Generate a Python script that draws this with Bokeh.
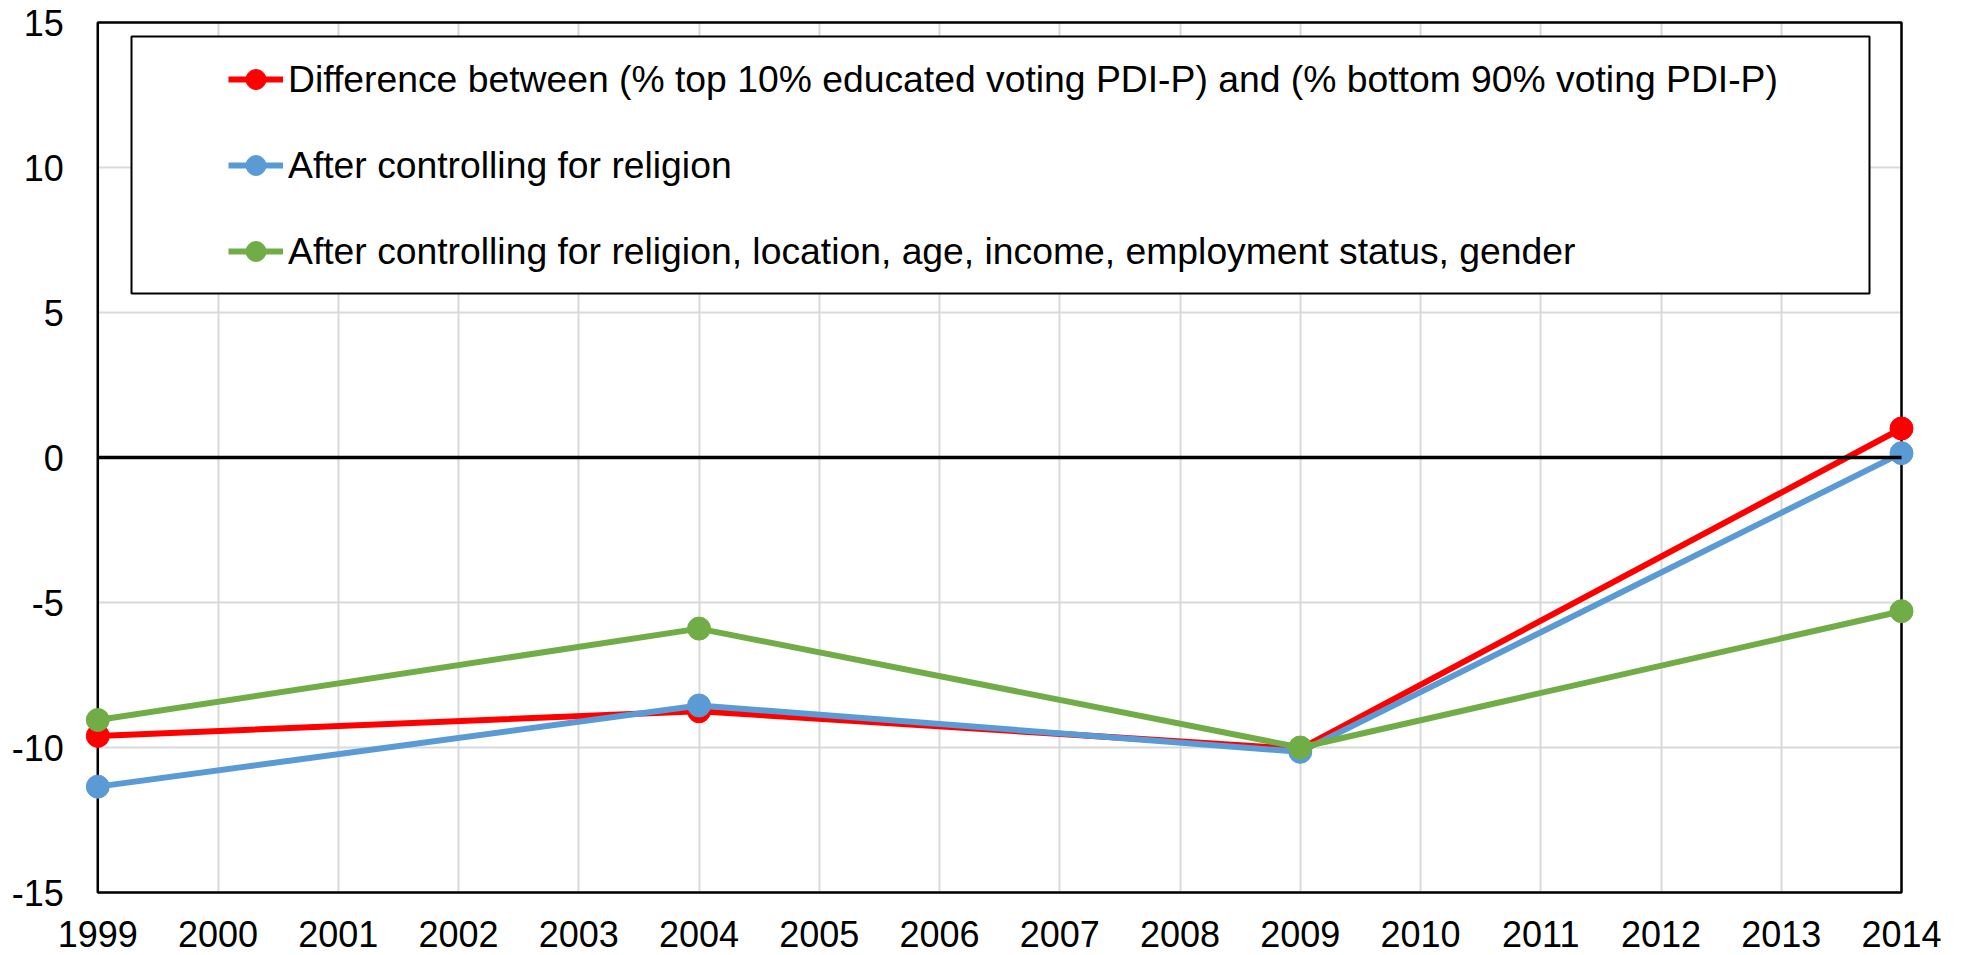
from bokeh.plotting import figure
from bokeh.models import (Range1d, FixedTicker, Grid, BoxAnnotation, Legend,
                          LegendItem)
from bokeh.embed import file_html
from bokeh.resources import INLINE

# ---- data ----
years = [1999, 2004, 2009, 2014]
diff_top10 = [-9.6, -8.75, -10.05, 1.0]
ctrl_religion = [-11.35, -8.55, -10.15, 0.15]
ctrl_all = [-9.05, -5.9, -10.0, -5.3]

x_ticks = list(range(1999, 2015))
y_ticks = [-15, -10, -5, 0, 5, 10, 15]

labels = [
    "Difference between (% top 10% educated voting PDI-P) and (% bottom 90% voting PDI-P)",
    "After controlling for religion",
    "After controlling for religion, location, age, income, employment status, gender",
]
colors = ["#ff0000", "#5b9bd5", "#70ad47"]

FONT = "Liberation Sans"
TICK_FS = "36px"
LEG_FS = "37.3px"

# ---- layout geometry (px on the canvas) ----
W, H = 1968, 955
X_LEFT_PX, X_RIGHT_PX = 97.3, 1901.0     # where first / last year sit
Y_TOP_PX, Y_BOT_PX = 22.0, 892.0          # where top / bottom y tick sit
xa, xb = x_ticks[0], x_ticks[-1]
ya, yb = y_ticks[0], y_ticks[-1]
upx_x = (xb - xa) / (X_RIGHT_PX - X_LEFT_PX)
upx_y = (yb - ya) / (Y_BOT_PX - Y_TOP_PX)

p = figure(width=W, height=H,
           x_range=Range1d(xa - X_LEFT_PX * upx_x, xb + (W - X_RIGHT_PX) * upx_x),
           y_range=Range1d(ya - (H - Y_BOT_PX) * upx_y, yb + Y_TOP_PX * upx_y),
           output_backend="svg", toolbar_location=None,
           min_border_left=0, min_border_top=0,
           min_border_right=0, min_border_bottom=0)
p.outline_line_color = None
p.background_fill_color = "white"
p.border_fill_color = "white"

# grids
p.xgrid.ticker = FixedTicker(ticks=x_ticks)
p.ygrid.ticker = FixedTicker(ticks=y_ticks)
for g in (p.xgrid, p.ygrid):
    g.grid_line_color = "#d9d9d9"
    g.grid_line_width = 2
p.xgrid.cross_bounds = (ya, yb)
p.ygrid.cross_bounds = (xa, xb)

# plot-area border
p.add_layout(BoxAnnotation(left=xa, right=xb, bottom=ya, top=yb,
                           fill_alpha=0, line_color="black", line_alpha=1,
                           line_width=2.5, level="underlay"))

# axes (placed at the plot-area edges)
p.xaxis.ticker = FixedTicker(ticks=x_ticks)
p.yaxis.ticker = FixedTicker(ticks=y_ticks)
p.xaxis.fixed_location = ya
p.yaxis.fixed_location = xa
p.yaxis.major_label_overrides = {t: str(t) for t in y_ticks}
for ax in (p.xaxis, p.yaxis):
    ax.axis_line_color = None
    ax.major_tick_line_color = None
    ax.minor_tick_line_color = None
    ax.major_tick_out = 0
    ax.major_tick_in = 0
    ax.major_label_text_font = FONT
    ax.major_label_text_font_size = TICK_FS
    ax.major_label_text_color = "black"
p.xaxis.major_label_standoff = 28
p.yaxis.major_label_standoff = 34

# series
items = []
for vals, lab, col in zip([diff_top10, ctrl_religion, ctrl_all], labels, colors):
    r_line = p.line(years, vals, line_width=6, line_color=col, line_join="round")
    r_pts = p.scatter(years, vals, size=23, fill_color=col, line_color=col)
    items.append(LegendItem(label=lab, renderers=[r_line, r_pts]))

# zero line
p.add_layout(Grid(dimension=1, ticker=FixedTicker(ticks=[0]),
                  cross_bounds=(xa, xb),
                  grid_line_color="black", grid_line_width=3.5, level="annotation"))

# legend box
p.add_layout(BoxAnnotation(left=131, right=1869, top=36, bottom=293,
                           left_units="canvas", right_units="canvas",
                           top_units="canvas", bottom_units="canvas",
                           fill_color="white", fill_alpha=1,
                           line_color="black", line_alpha=1, line_width=2))

legend = Legend(items=items, location=(228, H - 276),
                padding=0, margin=0, border_line_color=None,
                background_fill_alpha=0,
                glyph_width=55, glyph_height=50, label_height=50,
                spacing=36, label_standoff=5,
                label_text_font=FONT, label_text_font_size=LEG_FS,
                label_text_color="black")
p.add_layout(legend)

open("out.html", "w").write(file_html(p, INLINE))
